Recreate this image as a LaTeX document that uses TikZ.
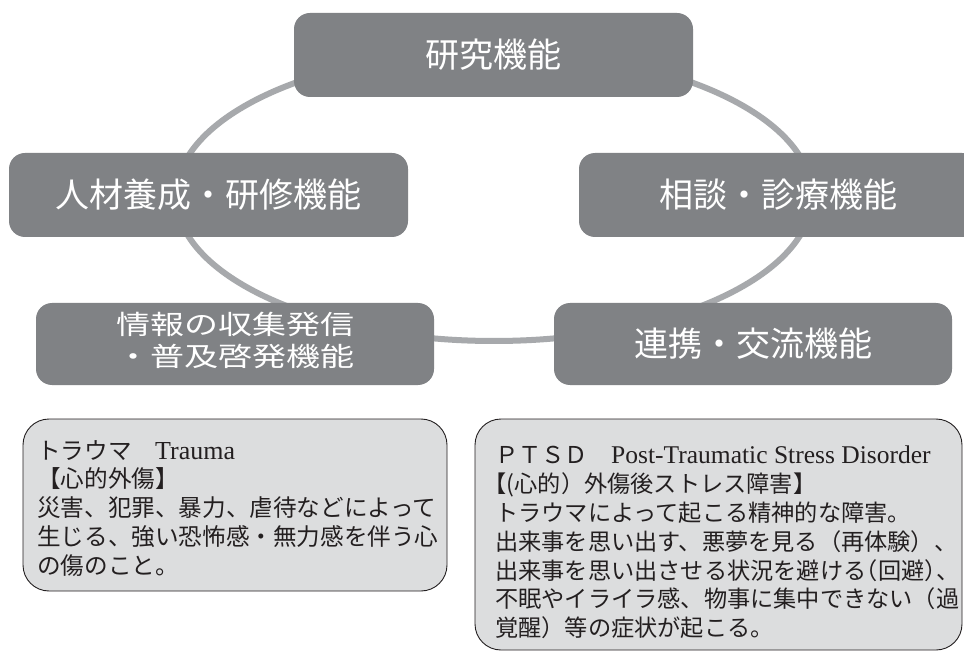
\documentclass[tikz,border=0pt]{standalone}
\usepackage{fontspec}
\setmainfont{Noto Sans CJK JP}
\newfontfamily\latinserif[Scale=1.1]{Liberation Serif}
\newcommand\halfcl[1]{\makebox[0.5em][l]{#1}}
\newcommand\halfop[1]{\makebox[0.5em][r]{#1}}
\definecolor{boxgray}{HTML}{808285}
\definecolor{ringgray}{HTML}{A7A9AC}
\definecolor{notefill}{HTML}{DCDDDE}
\definecolor{notetext}{HTML}{231F20}
\begin{document}
\begin{tikzpicture}[x=1pt,y=-1pt,
  func/.style={fill=boxgray, rounded corners=16pt, text=white, minimum width=399pt, minimum height=84pt, inner sep=0pt, font=\fontsize{34}{40}\selectfont},
  note/.style={draw=notetext, line width=0.9pt, fill=notefill, rounded corners=26pt, inner sep=0pt},
  notetxt/.style={anchor=north west, align=left, inner sep=0pt, text=notetext}]
\useasboundingbox (0,0) rectangle (964,652);
\fill[white] (0,0) rectangle (964,652);
\coordinate (c) at (494,196);
\draw[ringgray, line width=6pt] (c) ellipse [x radius=318, y radius=145];
\node[func] (research) at (493.5,55) {研究機能};
\node[func] (training) at (208.5,195) {人材養成・研修機能};
\node[func] (consult) at (778.5,195) {相談・診療機能};
\node[func, minimum width=398pt, minimum height=82pt] (info) at (235,344) {\scalebox{1}[0.78]{\fontsize{34}{42}\selectfont\begin{tabular}{@{}c@{}}情報の収集発信\\・普及啓発機能\end{tabular}}};
\node[func, minimum width=398pt, minimum height=82pt] (liaison) at (753,344) {連携・交流機能};
\node[note, minimum width=424pt, minimum height=172pt] (traumabox) at (235,505) {};
\node[note, minimum width=487pt, minimum height=231pt] (ptsdbox) at (718.5,534.5) {};
\node[notetxt, font=\fontsize{23.6}{28.8}\selectfont] (traumatext) at (37,440) {トラウマ　{\latinserif Trauma}\\【心的外傷】\\災害、犯罪、暴力、虐待などによって\\生じる、強い恐怖感・無力感を伴う心\\の傷のこと。};
\node[notetxt, font=\fontsize{23.2}{28.8}\selectfont] (ptsdtext) at (495,446) {ＰＴＳＤ　{\latinserif Post-Traumatic Stress Disorder}\\\halfop{【}(心的）外傷後ストレス障害\halfcl{】}\\トラウマによって起こる精神的な障害。\\出来事を思い出す、悪夢を見る（再体験）、\\出来事を思い出させる状況を避ける\halfop{（}回避\halfcl{）}、\\不眠やイライラ感、物事に集中できない（過\\覚醒）等の症状が起こる。};
\end{tikzpicture}
\end{document}
